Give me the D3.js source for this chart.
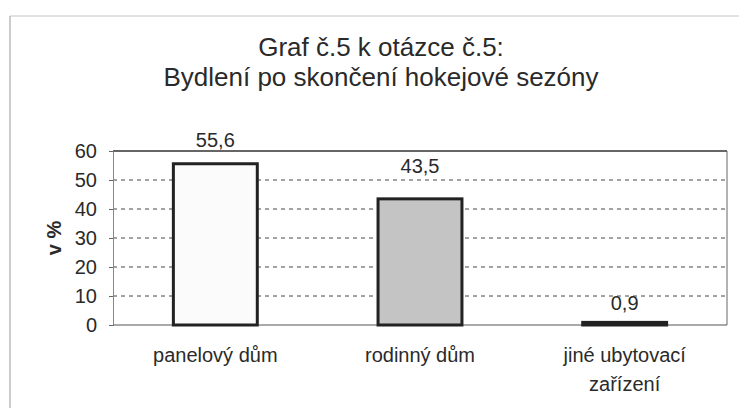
<!DOCTYPE html>
<html>
<head>
<meta charset="utf-8">
<script src="https://cdn.jsdelivr.net/npm/d3@7"></script>
<style>
  body { margin: 0; background: #fff; }
  svg { display: block; font-family: "Liberation Sans", Arial, sans-serif; }
</style>
</head>
<body>
<div id="chart"></div>
<script>
// data
const categories = ['panelový dům', 'rodinný dům', 'jiné ubytovací zařízení'];
const values = [55.6, 43.5, 0.9];
const valueLabels = ['55,6', '43,5', '0,9'];
const yTicks = [0, 10, 20, 30, 40, 50, 60];
const titleLines = ['Graf č.5 k otázce č.5:', 'Bydlení po skončení hokejové sezóny'];
const catLines = [['panelový dům'], ['rodinný dům'], ['jiné ubytovací', 'zařízení']];

// look
const barFills = ['#fbfbfb', '#c4c4c4', '#222'];
const labelLift = [17, 26, 12]; // labels were hand placed in the original
const W = 739, H = 414;
const plot = {left: 113, right: 727, top: 151, bottom: 325};
const textColor = '#2a2a2a';

const svg = d3.select('#chart').append('svg')
    .attr('width', W)
    .attr('height', H);

// outer frame (edges of the scanned page)
svg.append('line')
    .attr('x1', 10).attr('x2', 739).attr('y1', 16).attr('y2', 16)
    .attr('stroke', '#c4c4c4').attr('stroke-width', 1);
svg.append('line')
    .attr('x1', 10).attr('x2', 10).attr('y1', 16).attr('y2', 408)
    .attr('stroke', '#bbb').attr('stroke-width', 1.5);

// title
svg.append('g')
    .selectAll('text')
    .data(titleLines)
    .enter()
    .append('text')
        .attr('x', 381)
        .attr('y', (d, i) => 56 + i * 30)
        .attr('text-anchor', 'middle')
        .attr('font-size', 26)
        .attr('fill', textColor)
        .text(d => d);

const x = d3.scaleBand()
    .domain(categories)
    .range([plot.left, plot.right])
    .paddingInner(0.59)
    .paddingOuter(0.295);

const y = d3.scaleLinear()
    .domain([0, 60])
    .range([plot.bottom, plot.top]);

// gridlines
svg.append('g')
    .selectAll('line')
    .data(yTicks.filter(t => t > 0 && t < 60))
    .enter()
    .append('line')
        .attr('x1', plot.left)
        .attr('x2', plot.right)
        .attr('y1', d => y(d))
        .attr('y2', d => y(d))
        .attr('stroke', '#444')
        .attr('stroke-width', 1)
        .attr('stroke-dasharray', '4,4');

// plot frame
svg.append('line')
    .attr('x1', plot.left).attr('x2', plot.right).attr('y1', plot.top).attr('y2', plot.top)
    .attr('stroke', '#333').attr('stroke-width', 1.5);
svg.append('line')
    .attr('x1', plot.right).attr('x2', plot.right).attr('y1', plot.top).attr('y2', plot.bottom)
    .attr('stroke', '#666').attr('stroke-width', 1);

// y axis
const yAxis = svg.append('g')
    .attr('transform', `translate(${plot.left},0)`)
    .call(d3.axisLeft(y).tickValues(yTicks).tickSize(4).tickPadding(12));
yAxis.select('.domain').attr('stroke', '#888');
yAxis.selectAll('.tick line').attr('stroke', '#666');
yAxis.selectAll('text')
    .attr('font-size', 20)
    .attr('font-family', '"Liberation Sans", Arial, sans-serif')
    .attr('fill', textColor);

// x axis line
svg.append('line')
    .attr('x1', plot.left).attr('x2', plot.right).attr('y1', plot.bottom).attr('y2', plot.bottom)
    .attr('stroke', '#555').attr('stroke-width', 1.2);

// bars
svg.append('g')
    .selectAll('rect')
    .data(values)
    .enter()
    .append('rect')
        .attr('x', (d, i) => x(categories[i]))
        .attr('y', d => y(d))
        .attr('width', x.bandwidth())
        .attr('height', d => y(0) - y(d))
        .attr('fill', (d, i) => barFills[i])
        .attr('stroke', '#222')
        .attr('stroke-width', 3);

// value labels
svg.append('g')
    .selectAll('text')
    .data(values)
    .enter()
    .append('text')
        .attr('x', (d, i) => x(categories[i]) + x.bandwidth() / 2)
        .attr('y', (d, i) => y(d) - labelLift[i])
        .attr('text-anchor', 'middle')
        .attr('font-size', 20)
        .attr('fill', textColor)
        .text((d, i) => valueLabels[i]);

// category labels, wrapped like the original
catLines.forEach((lines, i) => {
    lines.forEach((line, j) => {
        svg.append('text')
            .attr('x', x(categories[i]) + x.bandwidth() / 2)
            .attr('y', 362 + j * 29)
            .attr('text-anchor', 'middle')
            .attr('font-size', 20)
            .attr('fill', textColor)
            .text(line);
    });
});

// y axis title
svg.append('text')
    .attr('transform', `translate(61,${(plot.top + plot.bottom) / 2}) rotate(-90)`)
    .attr('text-anchor', 'middle')
    .attr('font-size', 20)
    .attr('font-weight', 'bold')
    .attr('fill', textColor)
    .text('v %');
</script>
</body>
</html>
